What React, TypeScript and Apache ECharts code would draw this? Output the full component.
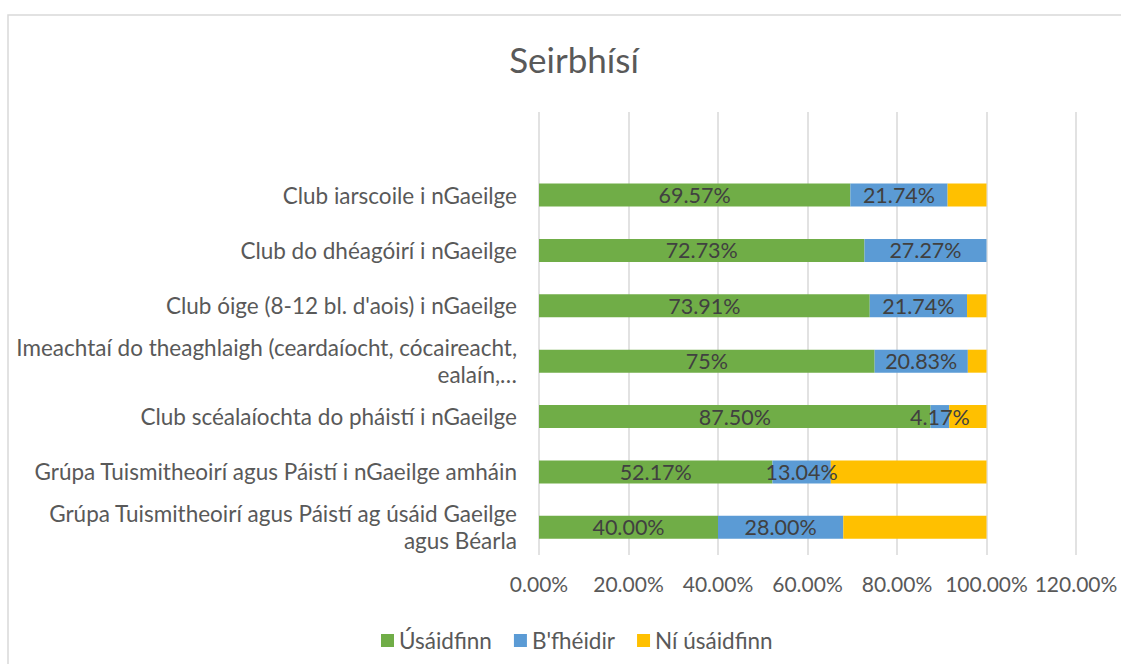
import React, { useEffect, useRef } from "react";
import * as echarts from "echarts";

const categories = [
  "Grúpa Tuismitheoirí agus Páistí ag úsáid Gaeilge\nagus Béarla",
  "Grúpa Tuismitheoirí agus Páistí i nGaeilge amháin",
  "Club scéalaíochta do pháistí i nGaeilge",
  "Imeachtaí do theaghlaigh (ceardaíocht, cócaireacht,\nealaín,…",
  "Club óige (8-12 bl. d'aois) i nGaeilge",
  "Club do dhéagóirí i nGaeilge",
  "Club iarscoile i nGaeilge",
  "",
];
const usaidfinn = [40.0, 52.17, 87.5, 75, 73.91, 72.73, 69.57, null];
const bfheidir = [28.0, 13.04, 4.17, 20.83, 21.74, 27.27, 21.74, null];
const niUsaidfinn = [32.0, 34.79, 8.33, 4.17, 4.35, 0, 8.69, null];
const labelTexts1 = ["40.00%", "52.17%", "87.50%", "75%", "73.91%", "72.73%", "69.57%", ""];
const labelTexts2 = ["28.00%", "13.04%", "4.17%", "20.83%", "21.74%", "27.27%", "21.74%", ""];
const seriesNames = ["Úsáidfinn", "B'fhéidir", "Ní úsáidfinn"];
const colors = ["#70AD47", "#5B9BD5", "#FFC000"];

const FONT = "Lato";

export default function App() {
  const ref = useRef<HTMLDivElement>(null);
  useEffect(() => {
    if (!ref.current) return;
    const chart = echarts.init(ref.current, null, { renderer: "svg" });
    const dataLabel = (texts: string[]) => ({
      show: true,
      position: "inside",
      formatter: (p: any) => texts[p.dataIndex],
      fontFamily: FONT,
      fontSize: 21.5,
      color: "#404040",
    });
    chart.setOption({
      animation: false,
      textStyle: { fontFamily: FONT },
      title: {
        text: "Seirbhísí",
        left: 569,
        top: 36,
        textAlign: "center",
        textStyle: { fontFamily: FONT, fontSize: 35, fontWeight: "normal", color: "#595959" },
      },
      graphic: [
        {
          type: "rect",
          shape: { x: 8, y: 15, width: 1200, height: 700 },
          style: { fill: "none", stroke: "#d9d9d9", lineWidth: 1.5 },
          silent: true,
        },
      ],
      legend: {
        data: seriesNames,
        left: 376,
        top: 624,
        itemWidth: 13,
        itemHeight: 13,
        itemGap: 22,
        icon: "rect",
        textStyle: { fontFamily: FONT, fontSize: 22.5, color: "#595959" },
      },
      grid: { left: 539, right: 45, top: 112, bottom: 109 },
      xAxis: {
        type: "value",
        min: 0,
        max: 120,
        interval: 20,
        axisLine: { show: false },
        axisTick: { show: false },
        splitLine: { lineStyle: { color: "#d9d9d9", width: 1.5 } },
        axisLabel: {
          formatter: (v: number) => v.toFixed(2) + "%",
          fontFamily: FONT,
          fontSize: 21,
          color: "#595959",
          margin: 18,
        },
      },
      yAxis: {
        type: "category",
        data: categories,
        axisLine: { show: false },
        axisTick: { show: false },
        axisLabel: {
          fontFamily: FONT,
          fontSize: 22.5,
          color: "#595959",
          margin: 22,
          align: "right",
          lineHeight: 27,
        },
      },
      series: [
        {
          name: seriesNames[0],
          type: "bar",
          stack: "total",
          barWidth: 23,
          data: usaidfinn,
          itemStyle: { color: colors[0] },
          label: dataLabel(labelTexts1),
        },
        {
          name: seriesNames[1],
          type: "bar",
          stack: "total",
          barWidth: 23,
          data: bfheidir,
          itemStyle: { color: colors[1] },
          label: dataLabel(labelTexts2),
        },
        {
          name: seriesNames[2],
          type: "bar",
          stack: "total",
          barWidth: 23,
          data: niUsaidfinn,
          itemStyle: { color: colors[2] },
        },
      ],
    });
    return () => chart.dispose();
  }, []);
  return (
    <div
      ref={ref}
      style={{ position: "fixed", left: 0, top: 0, width: 1121, height: 664, background: "#fff" }}
    />
  );
}
